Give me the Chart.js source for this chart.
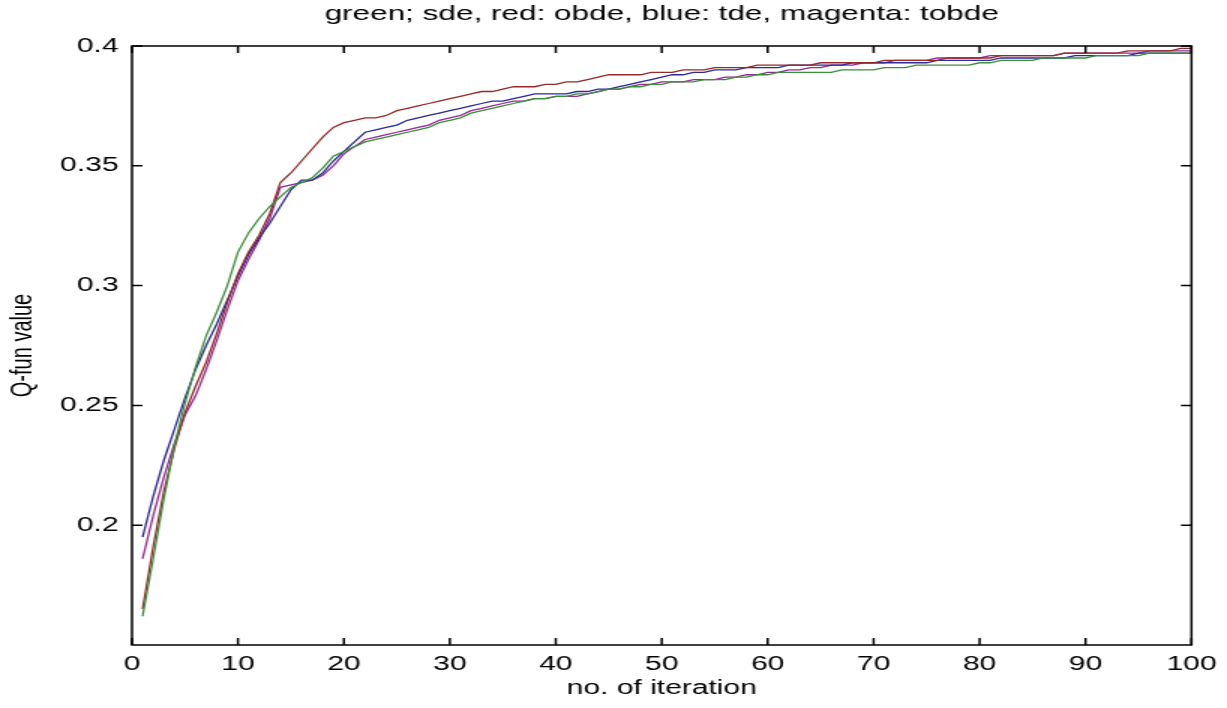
<!DOCTYPE html>
<html lang="en">
<head>
<meta charset="UTF-8">
<title>Q-fun value vs iteration</title>
<style>
    body {
        margin: 0;
        background-color: white;
    }

    #q-chart {
        display: block;
    }
</style>
</head>
<body>
<!-- drawing buffer is narrower than the element, so the whole figure is stretched sideways -->
<canvas id="q-chart" width="818" height="708" style="width:1227px;height:708px"></canvas>
<script src="https://cdn.jsdelivr.net/npm/chart.js"></script>
<script>
    const iterations = Array.from({ length: 100 }, (_, i) => i + 1);

    // green
    const sde = [
        0.162, 0.186, 0.211, 0.233, 0.251, 0.266, 0.279, 0.289, 0.300, 0.314,
        0.322, 0.328, 0.333, 0.337, 0.341, 0.343, 0.345, 0.349, 0.354, 0.356,
        0.358, 0.360, 0.361, 0.362, 0.363, 0.364, 0.365, 0.366, 0.368, 0.369,
        0.370, 0.372, 0.373, 0.374, 0.375, 0.376, 0.377, 0.378, 0.378, 0.379,
        0.379, 0.380, 0.380, 0.381, 0.382, 0.382, 0.383, 0.383, 0.384, 0.384,
        0.385, 0.385, 0.385, 0.386, 0.386, 0.386, 0.387, 0.387, 0.388, 0.388,
        0.389, 0.389, 0.389, 0.389, 0.389, 0.389, 0.390, 0.390, 0.390, 0.390,
        0.391, 0.391, 0.391, 0.392, 0.392, 0.392, 0.392, 0.392, 0.392, 0.393,
        0.393, 0.394, 0.394, 0.394, 0.394, 0.395, 0.395, 0.395, 0.395, 0.395,
        0.396, 0.396, 0.396, 0.396, 0.396, 0.397, 0.397, 0.397, 0.397, 0.397
    ];

    // red
    const obde = [
        0.165, 0.191, 0.214, 0.232, 0.247, 0.258, 0.268, 0.280, 0.293, 0.305,
        0.314, 0.321, 0.330, 0.343, 0.347, 0.352, 0.357, 0.362, 0.366, 0.368,
        0.369, 0.370, 0.370, 0.371, 0.373, 0.374, 0.375, 0.376, 0.377, 0.378,
        0.379, 0.380, 0.381, 0.381, 0.382, 0.383, 0.383, 0.383, 0.384, 0.384,
        0.385, 0.385, 0.386, 0.387, 0.388, 0.388, 0.388, 0.388, 0.389, 0.389,
        0.389, 0.390, 0.390, 0.390, 0.391, 0.391, 0.391, 0.391, 0.392, 0.392,
        0.392, 0.392, 0.392, 0.392, 0.393, 0.393, 0.393, 0.393, 0.393, 0.393,
        0.394, 0.394, 0.394, 0.394, 0.394, 0.394, 0.395, 0.395, 0.395, 0.395,
        0.395, 0.396, 0.396, 0.396, 0.396, 0.396, 0.396, 0.397, 0.397, 0.397,
        0.397, 0.397, 0.397, 0.398, 0.398, 0.398, 0.398, 0.398, 0.399, 0.399
    ];

    // blue
    const tde = [
        0.195, 0.212, 0.227, 0.240, 0.253, 0.265, 0.275, 0.284, 0.294, 0.304,
        0.313, 0.320, 0.326, 0.333, 0.340, 0.344, 0.344, 0.347, 0.352, 0.356,
        0.360, 0.364, 0.365, 0.366, 0.367, 0.369, 0.370, 0.371, 0.372, 0.373,
        0.374, 0.375, 0.376, 0.377, 0.377, 0.378, 0.379, 0.380, 0.380, 0.380,
        0.380, 0.381, 0.381, 0.382, 0.382, 0.383, 0.384, 0.385, 0.386, 0.387,
        0.388, 0.388, 0.389, 0.389, 0.390, 0.390, 0.390, 0.391, 0.391, 0.391,
        0.391, 0.392, 0.392, 0.392, 0.392, 0.392, 0.392, 0.393, 0.393, 0.393,
        0.393, 0.393, 0.393, 0.393, 0.393, 0.394, 0.394, 0.394, 0.394, 0.394,
        0.394, 0.395, 0.395, 0.395, 0.395, 0.395, 0.395, 0.395, 0.396, 0.396,
        0.396, 0.396, 0.396, 0.396, 0.397, 0.397, 0.397, 0.397, 0.397, 0.397
    ];

    // magenta
    const tobde = [
        0.186, 0.204, 0.220, 0.234, 0.246, 0.254, 0.265, 0.277, 0.290, 0.302,
        0.311, 0.319, 0.328, 0.341, 0.342, 0.343, 0.344, 0.346, 0.350, 0.355,
        0.358, 0.361, 0.362, 0.363, 0.364, 0.365, 0.366, 0.367, 0.369, 0.370,
        0.371, 0.373, 0.374, 0.375, 0.376, 0.377, 0.377, 0.378, 0.378, 0.379,
        0.379, 0.379, 0.380, 0.381, 0.382, 0.382, 0.383, 0.384, 0.384, 0.385,
        0.385, 0.385, 0.386, 0.386, 0.386, 0.387, 0.387, 0.388, 0.388, 0.389,
        0.389, 0.390, 0.390, 0.391, 0.391, 0.392, 0.392, 0.392, 0.393, 0.393,
        0.393, 0.394, 0.394, 0.394, 0.394, 0.395, 0.395, 0.395, 0.395, 0.395,
        0.396, 0.396, 0.396, 0.396, 0.396, 0.396, 0.396, 0.397, 0.397, 0.397,
        0.397, 0.397, 0.397, 0.397, 0.397, 0.398, 0.398, 0.398, 0.398, 0.398
    ];

    const xTicks = [0, 10, 20, 30, 40, 50, 60, 70, 80, 90, 100];
    const yTicks = [0.2, 0.25, 0.3, 0.35, 0.4];

    const fontFamily = "'Liberation Sans', Arial, sans-serif";

    function toPoints(values) {
        return values.map((v, i) => ({ x: iterations[i], y: v }));
    }

    function lineSet(label, values, color) {
        return {
            label: label,
            data: toPoints(values),
            borderColor: color,
            borderWidth: 1.3,
            pointRadius: 0,
            tension: 0,
            fill: false
        };
    }

    // box around the axes with the tick marks pointing inwards on all four sides
    const axesBox = {
        id: 'axesBox',
        afterDatasetsDraw(chart) {
            const { ctx, chartArea: a, scales } = chart;
            const len = 7;
            ctx.save();
            ctx.strokeStyle = '#000';
            ctx.lineWidth = 1.5;
            ctx.strokeRect(a.left, a.top, a.right - a.left, a.bottom - a.top);
            ctx.beginPath();
            xTicks.forEach(v => {
                const px = scales.x.getPixelForValue(v);
                ctx.moveTo(px, a.bottom);
                ctx.lineTo(px, a.bottom - len);
                ctx.moveTo(px, a.top);
                ctx.lineTo(px, a.top + len);
            });
            yTicks.forEach(v => {
                const py = scales.y.getPixelForValue(v);
                ctx.moveTo(a.left, py);
                ctx.lineTo(a.left + len, py);
                ctx.moveTo(a.right, py);
                ctx.lineTo(a.right - len, py);
            });
            ctx.stroke();
            ctx.restore();
        }
    };

    const ctx = document.getElementById('q-chart').getContext('2d');
    const qChart = new Chart(ctx, {
        type: 'line',
        data: {
            datasets: [
                lineSet('sde', sde, '#3a8f3a'),
                lineSet('obde', obde, '#952a2a'),
                lineSet('tde', tde, '#2a2a95'),
                lineSet('tobde', tobde, '#952a95')
            ]
        },
        options: {
            responsive: false,
            animation: false,
            layout: { padding: { left: 0, right: 23, top: 0, bottom: 0 } },
            plugins: {
                legend: { display: false },
                tooltip: { enabled: false },
                title: {
                    display: true,
                    text: 'green; sde, red: obde, blue: tde, magenta: tobde',
                    color: '#000',
                    fullSize: false,
                    font: { family: fontFamily, size: 21, weight: 'normal' },
                    padding: { top: 1.4, bottom: 19.4 }
                }
            },
            scales: {
                x: {
                    type: 'linear',
                    min: 0,
                    max: 100,
                    grid: { display: false, drawTicks: false },
                    border: { display: false },
                    afterBuildTicks: s => { s.ticks = xTicks.map(v => ({ value: v })); },
                    afterFit: s => { s.height = 63; },
                    ticks: {
                        color: '#000',
                        padding: 7,
                        maxRotation: 0,
                        font: { family: fontFamily, size: 20 },
                        callback: v => String(v)
                    },
                    title: {
                        display: true,
                        text: 'no. of iteration',
                        color: '#000',
                        font: { family: fontFamily, size: 20 },
                        padding: { top: 0, bottom: 8 }
                    }
                },
                y: {
                    min: 0.15,
                    max: 0.4,
                    grid: { display: false, drawTicks: false },
                    border: { display: false },
                    afterBuildTicks: s => { s.ticks = yTicks.map(v => ({ value: v })); },
                    afterFit: s => { s.width = 88; },
                    ticks: {
                        color: '#000',
                        padding: 9,
                        font: { family: fontFamily, size: 20 },
                        callback: v => String(v)
                    },
                    title: {
                        display: true,
                        text: 'Q-fun value',
                        color: '#000',
                        font: { family: fontFamily, size: 20 },
                        padding: { top: 3, bottom: 0 }
                    }
                }
            }
        },
        plugins: [axesBox]
    });
</script>
</body>
</html>
